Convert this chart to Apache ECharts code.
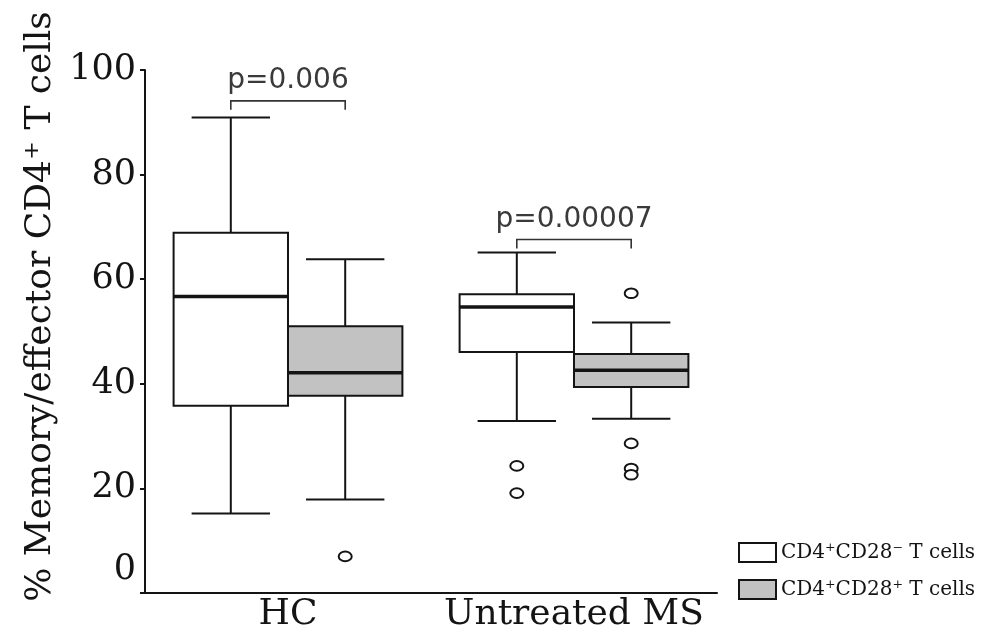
<!DOCTYPE html>
<html>
<head>
<meta charset="utf-8">
<script src="https://cdn.jsdelivr.net/npm/echarts@6/dist/echarts.min.js"></script>
<style>html,body{margin:0;padding:0;background:#fff}#chart{width:984px;height:635px}</style>
</head>
<body>
<div id="chart"></div>
<script>
// ---- data ----
const categories = ['HC', 'Untreated MS'];
const seriesNames = ['CD4\u207ACD28\u207B T cells', 'CD4\u207ACD28\u207A T cells'];
// [min, Q1, median, Q3, max]
const cd28negStats = [[15.2, 35.8, 56.7, 68.9, 90.9], [32.9, 46.1, 54.7, 57.1, 65.1]];
const cd28posStats = [[17.9, 37.7, 42.1, 51.0, 63.8], [33.3, 39.4, 42.6, 45.7, 51.7]];
// outliers: [category index, value]
const cd28negOutliers = [[1, 24.3], [1, 19.1]];
const cd28posOutliers = [[0, 7.0], [1, 57.3], [1, 28.6], [1, 23.8], [1, 22.6]];
const pValues = ['p=0.006', 'p=0.00007'];
const bracketLevels = [94.1, 67.6];
const yTicks = [0, 20, 40, 60, 80, 100];

// ---- styles ----
const INK = '#141414';
const GRAY = '#c2c2c2';
const SERIF = 'DejaVu Serif';

function boxData(stats) { return stats.map((s, i) => [i].concat(s)); }

function makeBoxRender(offset, fill) {
  return function (params, api) {
    const idx = api.value(0);
    const band = api.size([1, 0])[0];
    const cx = api.coord([idx, 0])[0] + offset * band;
    const half = band * 0.2;
    const capHalf = band * 0.137;
    const yMin = api.coord([idx, api.value(1)])[1];
    const yQ1 = api.coord([idx, api.value(2)])[1];
    const yMed = api.coord([idx, api.value(3)])[1];
    const yQ3 = api.coord([idx, api.value(4)])[1];
    const yMax = api.coord([idx, api.value(5)])[1];
    const ls = { stroke: INK, lineWidth: 2, fill: null };
    return {
      type: 'group',
      children: [
        { type: 'line', shape: { x1: cx, y1: yQ3, x2: cx, y2: yMax }, style: ls },
        { type: 'line', shape: { x1: cx - capHalf, y1: yMax, x2: cx + capHalf, y2: yMax }, style: ls },
        { type: 'line', shape: { x1: cx, y1: yQ1, x2: cx, y2: yMin }, style: ls },
        { type: 'line', shape: { x1: cx - capHalf, y1: yMin, x2: cx + capHalf, y2: yMin }, style: ls },
        { type: 'rect', shape: { x: cx - half, y: yQ3, width: 2 * half, height: yQ1 - yQ3 },
          style: { fill: fill, stroke: INK, lineWidth: 2 } },
        { type: 'line', shape: { x1: cx - half, y1: yMed, x2: cx + half, y2: yMed },
          style: { stroke: INK, lineWidth: 3.5 } }
      ]
    };
  };
}

function makeOutlierRender(offset) {
  return function (params, api) {
    const idx = api.value(0);
    const band = api.size([1, 0])[0];
    const pt = api.coord([idx, api.value(1)]);
    return {
      type: 'ellipse',
      shape: { cx: pt[0] + offset * band, cy: pt[1], rx: 6.5, ry: 4.8 },
      style: { fill: '#fff', stroke: INK, lineWidth: 2 }
    };
  };
}

function bracketRender(params, api) {
  const idx = api.value(0);
  const band = api.size([1, 0])[0];
  const c = api.coord([idx, api.value(1)]);
  const x1 = c[0] - 0.2 * band, x2 = c[0] + 0.2 * band;
  const y = c[1];
  return {
    type: 'group',
    children: [
      { type: 'polyline', shape: { points: [[x1, y + 9], [x1, y], [x2, y], [x2, y + 9]] },
        style: { stroke: '#333', lineWidth: 1.6, fill: null } },
      { type: 'text', x: c[0], y: y - 6,
        style: { text: pValues[params.dataIndex], fill: '#3a3a3a', font: '28px "DejaVu Sans"',
                 align: 'center', verticalAlign: 'bottom' } }
    ]
  };
}

const chart = echarts.init(document.getElementById('chart'), null, { renderer: 'canvas' });
chart.setOption({
  animation: false,
  backgroundColor: '#fff',
  grid: { left: 145, right: 267, top: 70, bottom: 42 },
  legend: {
    orient: 'vertical', left: 733, top: 537,
    itemWidth: 37, itemHeight: 19, itemGap: 16,
    textStyle: { fontFamily: SERIF, fontSize: 20, color: INK },
    data: [
      { name: seriesNames[0], icon: 'rect', itemStyle: { color: '#fff', borderColor: INK, borderWidth: 2 } },
      { name: seriesNames[1], icon: 'rect', itemStyle: { color: GRAY, borderColor: INK, borderWidth: 2 } }
    ],
    selectedMode: false
  },
  xAxis: {
    type: 'category', data: categories,
    axisLine: { lineStyle: { color: INK, width: 2 } },
    axisTick: { show: false },
    axisLabel: { fontFamily: SERIF, fontSize: 36, color: INK, margin: 4, interval: 0, hideOverlap: false },
    splitLine: { show: false }
  },
  yAxis: {
    type: 'value', min: 0, max: 100, interval: 20,
    name: '% Memory/effector CD4\u207A T cells',
    nameLocation: 'middle', nameGap: 86,
    nameTextStyle: { fontFamily: SERIF, fontSize: 36, color: INK, padding: [0, 0, 0, 50] },
    axisLine: { show: true, lineStyle: { color: INK, width: 2 } },
    axisTick: { show: true, length: 5, lineStyle: { color: INK, width: 2 } },
    axisLabel: {
      fontFamily: SERIF, fontSize: 35, color: INK, margin: 9,
      formatter: function (v) { return v === yTicks[0] ? '{z|' + v + '}' : String(v); },
      rich: { z: { fontFamily: SERIF, fontSize: 35, color: INK, padding: [0, 0, 46, 0] } }
    },
    splitLine: { show: false }
  },
  series: [
    { name: seriesNames[0], type: 'custom', renderItem: makeBoxRender(-0.2, '#fff'),
      itemStyle: { color: '#fff', borderColor: INK },
      encode: { x: 0, y: [1, 2, 3, 4, 5] }, data: boxData(cd28negStats), z: 2 },
    { name: seriesNames[1], type: 'custom', renderItem: makeBoxRender(0.2, GRAY),
      itemStyle: { color: GRAY, borderColor: INK },
      encode: { x: 0, y: [1, 2, 3, 4, 5] }, data: boxData(cd28posStats), z: 2 },
    { name: seriesNames[0], type: 'custom', renderItem: makeOutlierRender(-0.2),
      itemStyle: { color: '#fff' }, encode: { x: 0, y: 1 }, data: cd28negOutliers, z: 3 },
    { name: seriesNames[1], type: 'custom', renderItem: makeOutlierRender(0.2),
      itemStyle: { color: GRAY }, encode: { x: 0, y: 1 }, data: cd28posOutliers, z: 3 },
    { name: 'bracket', type: 'custom', renderItem: bracketRender,
      encode: { x: 0, y: 1 }, data: bracketLevels.map((v, i) => [i, v]), z: 4 }
  ]
});
</script>
</body>
</html>
